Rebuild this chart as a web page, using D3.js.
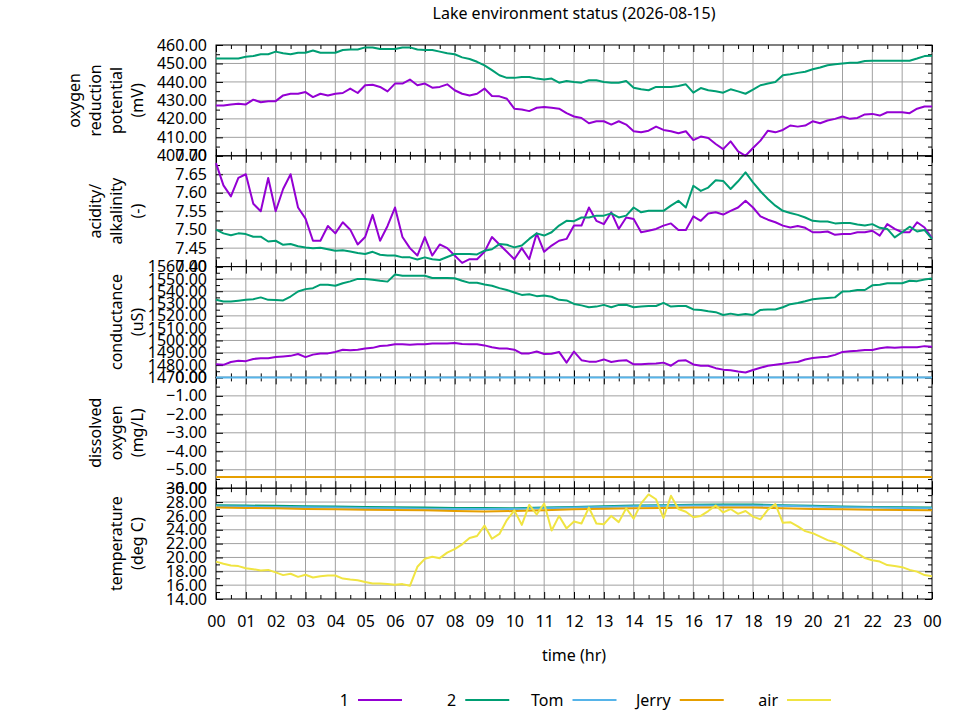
<!DOCTYPE html>
<html>
<head>
<meta charset="utf-8">
<script src="https://cdn.jsdelivr.net/npm/d3@7"></script>
<style>
  body { margin: 0; background: #fff; }
  text { font-family: "Noto Sans", sans-serif; fill: #000; }
</style>
</head>
<body>
<svg id="chart" width="960" height="720"></svg>
<script>
// ---- data (one sample every 15 min unless noted) ----
const orp1 = [427.3, 427.3, 427.8, 428.2, 427.8, 430.4, 429.0, 429.6, 429.6, 432.7, 433.6, 433.6, 434.5, 431.8, 433.6, 432.7,
  433.6, 434.0, 436.4, 434.0, 438.2, 438.5, 437.3, 434.9, 439.1, 439.1, 441.3, 438.2, 439.1, 436.9, 437.3, 438.7,
  435.5, 433.6, 432.7, 433.6, 436.4, 432.4, 432.2, 430.9, 425.5, 425.1, 424.2, 426.0, 426.4, 426.0, 425.5, 423.1,
  421.3, 420.5, 417.6, 418.7, 418.7, 416.9, 418.7, 416.9, 413.3, 412.7, 413.6, 415.8, 414.0, 413.3, 412.2, 413.3,
  408.5, 410.4, 409.6, 406.4, 403.6, 407.8, 402.4, 400.0, 404.2, 408.2, 413.6, 412.7, 414.0, 416.4, 415.8, 416.4,
  418.7, 417.6, 419.1, 420.0, 421.3, 420.0, 420.5, 422.4, 422.7, 421.8, 423.6, 423.6, 423.6, 423.1, 425.5, 426.7, 426.7];
const orp2 = [452.7, 452.7, 452.7, 452.7, 453.6, 454.0, 455.0, 455.0, 456.4, 455.5, 455.0, 455.8, 455.8, 457.0, 455.8, 455.8,
  455.8, 457.3, 457.6, 457.6, 458.7, 458.7, 457.8, 457.8, 457.8, 458.7, 458.7, 457.6, 457.3, 457.3, 456.4, 455.5,
  455.0, 453.3, 452.4, 450.9, 449.0, 446.4, 443.6, 442.2, 442.2, 442.7, 442.7, 441.8, 441.3, 441.8, 439.6, 440.5,
  440.0, 439.6, 440.9, 440.9, 440.0, 439.6, 439.6, 440.5, 436.9, 436.0, 435.5, 437.3, 437.3, 437.3, 437.8, 438.7,
  434.2, 436.7, 435.5, 434.9, 434.2, 436.0, 434.9, 433.6, 435.8, 438.2, 439.1, 440.0, 443.6, 444.2, 444.9, 445.5,
  446.9, 447.8, 449.0, 449.6, 450.0, 450.4, 450.4, 451.3, 451.5, 451.5, 451.5, 451.5, 451.5, 451.5, 452.7, 454.0, 454.2];

const ph1 = [7.68, 7.62, 7.59, 7.64, 7.65, 7.57, 7.55, 7.64, 7.55, 7.61, 7.65, 7.56, 7.53, 7.47, 7.47, 7.51,
  7.49, 7.52, 7.50, 7.46, 7.48, 7.54, 7.47, 7.51, 7.56, 7.48, 7.45, 7.43, 7.48, 7.43, 7.46, 7.45,
  7.43, 7.41, 7.42, 7.42, 7.44, 7.48, 7.46, 7.44, 7.42, 7.45, 7.42, 7.49, 7.44, 7.457, 7.47, 7.475,
  7.511, 7.511, 7.56, 7.524, 7.515, 7.547, 7.502, 7.533, 7.529, 7.493, 7.497, 7.502, 7.511, 7.517, 7.499, 7.499,
  7.536, 7.524, 7.544, 7.547, 7.541, 7.551, 7.560, 7.578, 7.560, 7.536, 7.527, 7.520, 7.511, 7.506, 7.510, 7.505,
  7.493, 7.493, 7.495, 7.486, 7.488, 7.488, 7.493, 7.493, 7.497, 7.484, 7.515, 7.502, 7.493, 7.493, 7.520, 7.506, 7.477];
const ph2 = [7.500, 7.490, 7.485, 7.490, 7.488, 7.481, 7.481, 7.468, 7.470, 7.459, 7.461, 7.455, 7.452, 7.450, 7.451, 7.447,
  7.443, 7.444, 7.441, 7.437, 7.434, 7.440, 7.432, 7.430, 7.430, 7.425, 7.425, 7.419, 7.425, 7.420, 7.418, 7.426,
  7.434, 7.434, 7.434, 7.433, 7.443, 7.447, 7.461, 7.459, 7.452, 7.457, 7.475, 7.490, 7.484, 7.493, 7.511, 7.524,
  7.523, 7.533, 7.533, 7.538, 7.538, 7.544, 7.533, 7.538, 7.560, 7.547, 7.551, 7.551, 7.551, 7.565, 7.578, 7.560,
  7.619, 7.605, 7.614, 7.634, 7.632, 7.610, 7.631, 7.655, 7.628, 7.604, 7.583, 7.565, 7.551, 7.545, 7.540, 7.533,
  7.524, 7.522, 7.522, 7.517, 7.518, 7.518, 7.514, 7.511, 7.515, 7.505, 7.502, 7.479, 7.493, 7.508, 7.495, 7.499, 7.475];

const cond1 = [1480.6, 1480.2, 1482.5, 1483.5, 1483.2, 1485.0, 1485.5, 1485.5, 1486.5, 1487.0, 1487.5, 1489.0, 1486.5, 1488.5, 1489.5, 1489.5,
  1490.7, 1492.5, 1492.0, 1492.5, 1493.5, 1494.0, 1495.5, 1496.0, 1497.0, 1497.0, 1496.5, 1497.0, 1497.0, 1497.5, 1497.5, 1497.5,
  1498.0, 1497.2, 1497.0, 1497.0, 1496.0, 1494.5, 1493.5, 1493.5, 1492.5, 1489.4, 1489.5, 1491.0, 1489.0, 1489.2, 1490.7, 1482.0,
  1491.0, 1484.0, 1482.8, 1482.8, 1484.6, 1482.5, 1483.5, 1484.0, 1480.6, 1480.6, 1481.0, 1481.2, 1482.0, 1479.5, 1483.5, 1483.9,
  1480.5, 1479.5, 1479.5, 1477.5, 1476.3, 1475.8, 1474.8, 1474.0, 1476.0, 1477.8, 1479.5, 1480.3, 1481.0, 1482.0, 1482.5, 1484.5,
  1485.8, 1486.3, 1486.8, 1488.3, 1490.7, 1491.2, 1491.6, 1492.3, 1492.3, 1493.6, 1494.5, 1494.0, 1494.5, 1494.5, 1494.5, 1495.4, 1494.8];
const cond2 = [1533.0, 1531.6, 1531.6, 1532.3, 1533.0, 1533.5, 1535.0, 1533.0, 1532.8, 1532.5, 1535.7, 1539.8, 1541.7, 1542.5, 1545.3, 1545.3,
  1544.4, 1546.5, 1548.0, 1550.0, 1550.0, 1549.4, 1548.5, 1547.8, 1553.5, 1552.5, 1552.5, 1552.5, 1552.5, 1550.7, 1550.7, 1550.7,
  1550.5, 1548.5, 1546.8, 1546.8, 1545.5, 1544.5, 1542.5, 1541.0, 1539.0, 1537.0, 1537.5, 1536.0, 1536.5, 1535.5, 1533.0, 1532.5,
  1529.7, 1528.5, 1527.0, 1527.5, 1528.9, 1527.0, 1528.9, 1529.0, 1527.0, 1527.5, 1528.0, 1528.0, 1530.5, 1527.5, 1528.0, 1528.0,
  1525.2, 1524.8, 1523.8, 1523.0, 1520.7, 1521.8, 1520.7, 1521.5, 1520.7, 1524.8, 1525.2, 1525.2, 1527.0, 1529.5, 1530.5, 1531.9,
  1533.5, 1534.0, 1534.5, 1535.0, 1539.8, 1539.9, 1541.0, 1541.0, 1544.8, 1545.3, 1546.5, 1546.5, 1546.5, 1548.5, 1548.2, 1549.5, 1550.3];

const tempAir = [19.4, 19.1, 18.85, 18.75, 18.45, 18.3, 18.1, 18.2, 17.85, 17.45, 17.65, 17.2, 17.5, 17.1, 17.3, 17.4,
  17.4, 16.95, 16.8, 16.7, 16.45, 16.25, 16.25, 16.15, 16.05, 16.15, 15.9, 18.65, 19.8, 20.1, 19.9, 20.7,
  21.2, 21.9, 22.8, 23.1, 24.6, 22.7, 23.4, 25.4, 26.8, 24.7, 27.6, 26.2, 27.8, 23.9, 26.0, 24.2,
  25.2, 24.9, 27.2, 24.9, 24.8, 26.0, 25.1, 27.1, 25.6, 27.8, 29.1, 28.4, 25.7, 28.9, 27.0, 26.6,
  25.8, 26.0, 26.7, 27.5, 26.5, 27.0, 26.3, 26.7, 25.9, 25.5, 26.9, 27.7, 25.0, 25.1, 24.5, 23.8,
  23.5, 23.0, 22.5, 22.2, 21.7, 21.1, 20.6, 19.9, 19.6, 19.4, 18.9, 18.75, 18.6, 18.2, 17.95, 17.45, 17.3];

// hourly samples
const temp2 = [27.55, 27.5, 27.45, 27.4, 27.35, 27.3, 27.25, 27.2, 27.15, 27.15, 27.1, 27.2, 27.3,
  27.4, 27.5, 27.55, 27.6, 27.65, 27.65, 27.55, 27.45, 27.35, 27.3, 27.25, 27.2];
const tempTom = [27.4, 27.35, 27.3, 27.25, 27.2, 27.15, 27.1, 27.05, 27.0, 27.0, 27.0, 27.1, 27.2,
  27.3, 27.4, 27.45, 27.5, 27.5, 27.5, 27.45, 27.35, 27.25, 27.2, 27.15, 27.1];
const tempJerry = [27.2, 27.15, 27.1, 27.0, 26.95, 26.9, 26.85, 26.8, 26.7, 26.65, 26.7, 26.8, 26.95,
  27.05, 27.1, 27.15, 27.2, 27.2, 27.2, 27.1, 27.0, 26.95, 26.9, 26.85, 26.8];
const doTom = [0, 0, 0, 0, 0, 0, 0, 0, 0, 0, 0, 0, 0, 0, 0, 0, 0, 0, 0, 0, 0, 0, 0, 0, 0];
const doJerry = [-5.4, -5.4, -5.4, -5.4, -5.4, -5.4, -5.4, -5.4, -5.4, -5.4, -5.4, -5.4, -5.4,
  -5.4, -5.4, -5.4, -5.4, -5.4, -5.4, -5.4, -5.4, -5.4, -5.4, -5.4, -5.4];

const seriesNames = ["1", "2", "Tom", "Jerry", "air"];
const seriesColors = ["#9400d3", "#009e73", "#56b4e9", "#e69f00", "#f0e442"];
const hourLabels = ["00", "01", "02", "03", "04", "05", "06", "07", "08", "09", "10", "11",
  "12", "13", "14", "15", "16", "17", "18", "19", "20", "21", "22", "23", "00"];

const quarterHours = orp1.map((_, i) => i / 4);
const wholeHours = temp2.map((_, i) => i);

const panels = [
  { title: ["oxygen", "reduction", "potential", "(mV)"], domain: [400, 460], step: 10,
    lines: [[0, quarterHours, orp1], [1, quarterHours, orp2]] },
  { title: ["acidity/", "alkalinity", "(-)"], domain: [7.40, 7.70], step: 0.05,
    lines: [[0, quarterHours, ph1], [1, quarterHours, ph2]] },
  { title: ["conductance", "(uS)"], domain: [1470, 1560], step: 10,
    lines: [[0, quarterHours, cond1], [1, quarterHours, cond2]] },
  { title: ["dissolved", "oxygen", "(mg/L)"], domain: [-6, 0], step: 1,
    lines: [[2, wholeHours, doTom], [3, wholeHours, doJerry]] },
  { title: ["temperature", "(deg C)"], domain: [14, 30], step: 2,
    lines: [[1, wholeHours, temp2], [2, wholeHours, tempTom], [3, wholeHours, tempJerry], [4, quarterHours, tempAir]] }
];

// ---- layout ----
const W = 960, H = 720;
const plotLeft = 216, plotRight = 932, plotTop = 45, panelH = 110.8;
const majorTick = 7, minorTick = 4;
const gridColor = "#a0a0a0";

const svg = d3.select("#chart");
svg.append("rect").attr("width", W).attr("height", H).attr("fill", "#fff");

svg.append("text")
  .attr("x", (plotLeft + plotRight) / 2).attr("y", 19)
  .attr("text-anchor", "middle").style("font-size", "16px")
  .text("Lake environment status (2026-08-15)");

const x = d3.scaleLinear().domain([0, 24]).range([plotLeft, plotRight]);
const hourTicks = d3.range(0, 25);
const halfHourTicks = d3.range(0.5, 24, 1);
const fmt = d3.format(".2f");

panels.forEach((p, pi) => {
  const y0 = plotTop + pi * panelH, y1 = y0 + panelH;
  const y = d3.scaleLinear().domain(p.domain).range([y1, y0]);
  const n = Math.round((p.domain[1] - p.domain[0]) / p.step);
  const major = d3.range(n + 1).map(i => p.domain[0] + i * p.step);
  const minor = d3.range(n).map(i => p.domain[0] + (i + 0.5) * p.step);
  const g = svg.append("g");

  // grid
  g.append("g").selectAll("line").data(hourTicks.slice(1, -1)).join("line")
    .attr("x1", d => x(d)).attr("x2", d => x(d)).attr("y1", y0).attr("y2", y1)
    .attr("stroke", gridColor).attr("stroke-width", 1);
  g.append("g").selectAll("line").data(major.slice(1, -1)).join("line")
    .attr("x1", plotLeft).attr("x2", plotRight).attr("y1", d => y(d)).attr("y2", d => y(d))
    .attr("stroke", gridColor).attr("stroke-width", 1);

  // border
  g.append("rect").attr("x", plotLeft).attr("y", y0).attr("width", plotRight - plotLeft).attr("height", panelH)
    .attr("fill", "none").attr("stroke", "#000").attr("stroke-width", 1);

  // ticks (inward, mirrored)
  const noDomain = s => s.call(a => a.select(".domain").remove()).selectAll("line").attr("stroke", "#000");
  const labelFont = a => a.selectAll("text").style("font-size", "16px").attr("font-family", null);
  g.append("g").attr("transform", `translate(${plotLeft},0)`)
    .call(d3.axisLeft(y).tickValues(major).tickSize(-majorTick).tickPadding(9).tickFormat(fmt))
    .call(noDomain).call(labelFont);
  g.append("g").attr("transform", `translate(${plotLeft},0)`)
    .call(d3.axisLeft(y).tickValues(minor).tickSize(-minorTick).tickFormat("")).call(noDomain);
  g.append("g").attr("transform", `translate(${plotRight},0)`)
    .call(d3.axisRight(y).tickValues(major).tickSize(-majorTick).tickFormat("")).call(noDomain);
  g.append("g").attr("transform", `translate(${plotRight},0)`)
    .call(d3.axisRight(y).tickValues(minor).tickSize(-minorTick).tickFormat("")).call(noDomain);
  g.append("g").attr("transform", `translate(0,${y0})`)
    .call(d3.axisTop(x).tickValues(hourTicks).tickSize(-majorTick).tickFormat("")).call(noDomain);
  g.append("g").attr("transform", `translate(0,${y0})`)
    .call(d3.axisTop(x).tickValues(halfHourTicks).tickSize(-minorTick).tickFormat("")).call(noDomain);
  const isLast = pi === panels.length - 1;
  g.append("g").attr("transform", `translate(0,${y1})`)
    .call(d3.axisBottom(x).tickValues(hourTicks).tickSize(-majorTick).tickPadding(17)
      .tickFormat(isLast ? (d, i) => hourLabels[i] : ""))
    .call(noDomain).call(labelFont);
  g.append("g").attr("transform", `translate(0,${y1})`)
    .call(d3.axisBottom(x).tickValues(halfHourTicks).tickSize(-minorTick).tickFormat("")).call(noDomain);

  // series
  p.lines.forEach(([si, t, v]) => {
    const line = d3.line().x((d, i) => x(t[i])).y(d => y(d));
    g.append("path").datum(v).attr("d", line)
      .attr("fill", "none").attr("stroke", seriesColors[si])
      .attr("stroke-width", 2).attr("stroke-linejoin", "round");
  });

  // rotated multi-line axis title
  const lh = 21.3;
  const t = g.append("text")
    .attr("transform", `translate(${143.5 - (p.title.length - 1) * lh},${(y0 + y1) / 2}) rotate(-90)`)
    .attr("text-anchor", "middle").style("font-size", "16px");
  p.title.forEach((s, i) => t.append("tspan").attr("x", 0).attr("dy", i ? lh : 0).text(s));
});

svg.append("text")
  .attr("x", (plotLeft + plotRight) / 2).attr("y", 661)
  .attr("text-anchor", "middle").style("font-size", "16px")
  .text("time (hr)");

// legend
const legendX = d3.scalePoint().domain(seriesNames).range([358, 787]);
const legend = svg.append("g").selectAll("g").data(seriesNames).join("g")
  .attr("transform", d => `translate(${legendX(d)},700)`);
legend.append("text").attr("x", -9).attr("dy", "0.35em").attr("text-anchor", "end")
  .style("font-size", "16px").text(d => d);
legend.append("line").attr("x1", 0).attr("x2", 44)
  .attr("stroke", (d, i) => seriesColors[i]).attr("stroke-width", 2);
</script>
</body>
</html>
